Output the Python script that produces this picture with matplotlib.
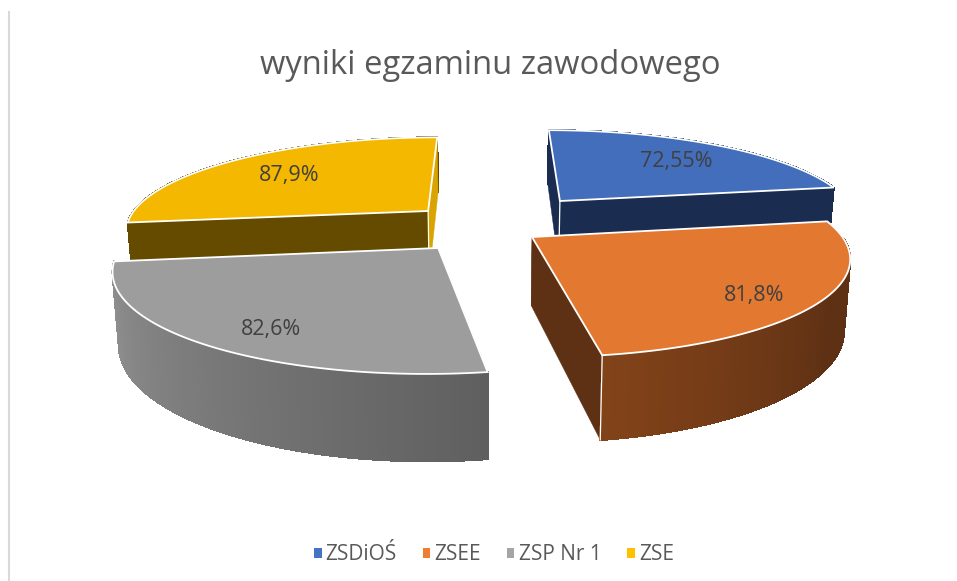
import matplotlib
matplotlib.use("Agg")
import matplotlib.pyplot as plt
import numpy as np
from matplotlib.collections import PolyCollection
from matplotlib.colors import to_rgb
from matplotlib.patches import Polygon, Patch

title = "wyniki egzaminu zawodowego"
schools = ["ZSDiOŚ", "ZSEE", "ZSP Nr 1", "ZSE"]
results = [72.55, 81.8, 82.6, 87.9]

legend_colors = ["#4472C4", "#ED7D31", "#A5A5A5", "#FFC000"]
top_colors = ["#426EBC", "#E37830", "#9D9D9D", "#F4B800"]
wall_colors = ["#1A2C50", "#5F3114", "#5F5F5F", "#654B00"]
rim_light = ["#1A2C50", "#824319", "#949494", "#654B00"]
rim_dark = ["#1A2C50", "#5F3114", "#5F5F5F", "#654B00"]
end_wall_colors = ["#1A2C50", "#5F3114", "#5F5F5F", "#D9A300"]

# how far each slice was pulled out of the pie, in pie radii
pull_x = [0.253, 0.145, -0.154, -0.200]
pull_y = [-0.273, 0.127, 0.238, -0.156]
label_x = [676, 754, 271, 289]
label_y = [161, 296, 329, 175]

# camera, found by measuring the slice corners
VANISH_X, VANISH_Y = 487, -266
SCALE_X, SCALE_Y = 303, 491
PERSP = 0.188
THICK = 67


def project(x, y, z=0):
    w = 1 - PERSP * y
    sx = VANISH_X + SCALE_X * x / w * (1 - 0.017 * z)
    sy = VANISH_Y + (SCALE_Y + THICK * z) / w
    return np.column_stack([sx, sy])


def wall(ax, xs, ys, color):
    top = project(xs, ys, 0)
    bottom = project(xs, ys, 1)
    pts = np.vstack([top, bottom[::-1]])
    ax.add_patch(Polygon(pts, closed=True, fc=color, ec=color, lw=0.3))


def rim(ax, xs, ys, c1, c2, end):
    # outer side of the slice, shaded from one end to the other
    top = project(xs, ys, 0)
    bottom = project(xs, ys, 1)
    quads = []
    cols = []
    c1 = np.array(to_rgb(c1))
    c2 = np.array(to_rgb(c2))
    for i in range(len(xs) - 1):
        quads.append([top[i], top[i + 1], bottom[i + 1], bottom[i]])
        t = min(i / (len(xs) - 1) / end, 1)
        cols.append(c1 + (c2 - c1) * t)
    ax.add_collection(PolyCollection(quads, facecolors=cols, edgecolors=cols,
                                     linewidths=0.8, antialiaseds=False))


def corner(ax, x, y):
    # white line where two sides of a slice meet
    a = project(np.array([x]), np.array([y]), 0)[0]
    b = project(np.array([x]), np.array([y]), 1)[0]
    ax.plot([a[0], b[0]], [a[1], b[1]], color="white", lw=0.9, zorder=1)


fig = plt.figure(figsize=(9.57, 5.81), dpi=100)
ax = fig.add_axes([0, 0, 1, 1])
ax.set_xlim(0, 957)
ax.set_ylim(581, 0)
ax.axis("off")

# slices run clockwise from 12 o'clock
angles = np.cumsum([0] + results) / np.sum(results) * 2 * np.pi

# thin frame line on the left of the slide
ax.plot([8.5, 8.5], [12, 581], color="#D9D9D9", lw=1.5, zorder=1)

# back slices first, front slices cover them
for i in [3, 0, 2, 1]:
    th = np.linspace(angles[i], angles[i + 1], 120)
    arc_x = pull_x[i] + np.sin(th)
    arc_y = pull_y[i] - np.cos(th)
    side_x = np.array([pull_x[i], arc_x[0]])
    side_y = np.array([pull_y[i], arc_y[0]])
    end_x = np.array([pull_x[i], arc_x[-1]])
    end_y = np.array([pull_y[i], arc_y[-1]])

    if i in (0, 3):
        rim(ax, arc_x, arc_y, wall_colors[i], wall_colors[i], 1)
        wall(ax, side_x, side_y, wall_colors[i])
        wall(ax, end_x, end_y, end_wall_colors[i])
        corner(ax, pull_x[i], pull_y[i])
    else:
        wall(ax, side_x, side_y, wall_colors[i])
        wall(ax, end_x, end_y, wall_colors[i])
        # only the part of the rim that faces the viewer, bright end first
        front = np.cos(th) <= 0
        if i == 1:
            rim(ax, arc_x[front][::-1], arc_y[front][::-1], rim_light[i], rim_dark[i], 0.6)
            corner(ax, arc_x[-1], arc_y[-1])
        else:
            rim(ax, arc_x[front][::-1], arc_y[front][::-1], rim_light[i], rim_dark[i], 1)

    top_x = np.concatenate([[pull_x[i]], arc_x])
    top_y = np.concatenate([[pull_y[i]], arc_y])
    ax.add_patch(Polygon(project(top_x, top_y, 0), closed=True,
                         fc=top_colors[i], ec="white", lw=1.3, joinstyle="miter"))

for i in range(4):
    txt = f"{results[i]:g}".replace(".", ",") + "%"
    ax.text(label_x[i], label_y[i], txt, ha="center", va="center",
            fontsize=15.5, family="Open Sans", color="#404040")

ax.text(490.5, 65, title, ha="center", va="center", fontsize=23.6,
        family="Open Sans", color="#595959")

handles = [Patch(fc=c, ec="none") for c in legend_colors]
ax.legend(handles, schools, ncol=4, frameon=False, loc="center",
          bbox_to_anchor=(494 / 957, 1 - 555 / 581),
          handlelength=0.35, handleheight=0.35, handletextpad=0.2,
          columnspacing=1.25,
          prop={"family": "Open Sans", "size": 15}, labelcolor="#595959")

fig.savefig("out.png", dpi=100)
